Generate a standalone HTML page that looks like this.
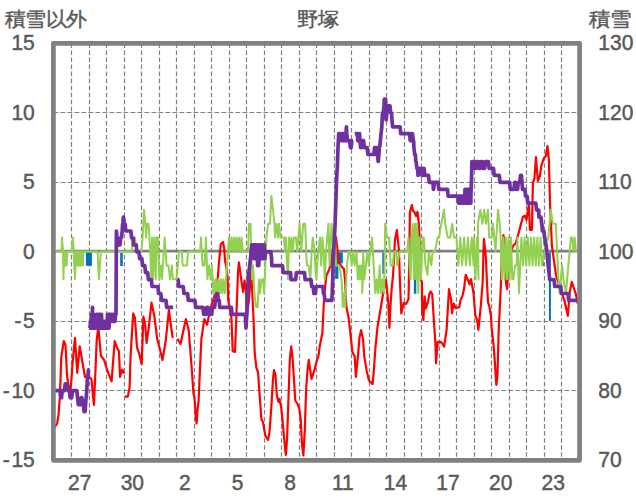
<!DOCTYPE html>
<html><head><meta charset="utf-8"><style>
html,body{margin:0;padding:0;background:#fff;}
svg{display:block;}
text{font-family:"Liberation Sans",sans-serif;fill:#595959;stroke:#595959;stroke-width:0.45px;}
</style></head><body>
<svg width="636" height="501" viewBox="0 0 636 501">
<rect width="636" height="501" fill="#fff"/>
<path d="M71.50 43.35V460.30 M89.50 43.35V460.30 M106.50 43.35V460.30 M124.50 43.35V460.30 M141.50 43.35V460.30 M159.50 43.35V460.30 M176.50 43.35V460.30 M194.50 43.35V460.30 M211.50 43.35V460.30 M229.50 43.35V460.30 M246.50 43.35V460.30 M264.50 43.35V460.30 M281.50 43.35V460.30 M299.50 43.35V460.30 M316.50 43.35V460.30 M334.50 43.35V460.30 M351.50 43.35V460.30 M369.50 43.35V460.30 M386.50 43.35V460.30 M404.50 43.35V460.30 M421.50 43.35V460.30 M439.50 43.35V460.30 M456.50 43.35V460.30 M474.50 43.35V460.30 M491.50 43.35V460.30 M509.50 43.35V460.30 M526.50 43.35V460.30 M544.50 43.35V460.30 M561.50 43.35V460.30" stroke="#808080" stroke-width="1.2" stroke-dasharray="4.6 2.45" fill="none"/><path d="M53.40 112.50H579.60 M53.40 182.50H579.60 M53.40 321.50H579.60 M53.40 390.50H579.60" stroke="#808080" stroke-width="1.2" stroke-dasharray="4.9 2.1" fill="none"/><path d="M53.40 251.2H579.60" stroke="#808080" stroke-width="2.8" fill="none"/><rect x="85.9" y="252.5" width="6.0" height="13.3" fill="#0070c0"/>
<rect x="120.2" y="253" width="2.6" height="13.0" fill="#0070c0"/>
<rect x="335.1" y="252.4" width="3.3" height="26.4" fill="#0070c0"/>
<rect x="338.4" y="252.4" width="4.4" height="11.0" fill="#0070c0"/>
<rect x="382.3" y="252.4" width="2.0" height="21.5" fill="#0070c0"/>
<rect x="413.9" y="252.3" width="2.4" height="41.5" fill="#0070c0"/>
<rect x="417.9" y="252.3" width="1.0" height="13.6" fill="#0070c0"/>
<rect x="548.9" y="252.4" width="2.0" height="68.4" fill="#0070c0"/>
<rect x="543" y="252.4" width="1.0" height="13.6" fill="#0070c0"/>
<path d="M54.2 427.8 L57.1 423.5 L58.5 415.0 L59.9 396.6 L61.3 357.0 L63.8 341.0 L65.5 345.0 L67.0 375.0 L69.8 396.6 L71.2 382.5 L72.6 362.6 L75.0 337.8 L77.2 372.8 L79.7 346.3 L85.0 377.0 L89.3 377.0 L91.4 379.2 L93.9 405.0 L95.5 370.0 L96.7 340.0 L98.4 327.1 L100.9 355.8 L104.1 360.0 L107.3 370.7 L111.6 381.3 L114.7 341.0 L116.9 347.3 L119.0 351.6 L120.0 377.0 L122.2 369.6 L124.3 373.8 M125.0 396.6 L127.8 396.6 L129.6 387.6 L130.7 353.7 L133.2 313.3 L134.9 317.6 L137.0 347.3 L139.2 353.7 L141.7 364.3 L143.4 316.5 L145.1 324.0 L146.6 343.0 L148.7 328.2 L151.5 302.7 L154.4 316.5 L157.2 338.8 L160.4 351.6 L162.5 360.0 L165.7 341.0 L168.9 310.2 L171.0 326.1 L172.7 337.8 M177.4 338.9 L180.5 344.0 L185.9 319.0 L188.7 330.4 L191.5 365.5 L193.5 393.8 L194.4 396.6 L195.8 416.4 L196.6 423.5 L197.7 408.0 L198.6 400.9 L200.0 368.3 L201.4 338.9 L204.3 319.0 L207.1 324.7 L209.9 310.6 L214.0 297.3 L217.2 285.6 L219.1 261.0 L220.8 244.1 L223.0 242.1 L224.3 249.3 L225.0 261.0 L226.3 266.2 L227.6 277.9 L228.2 300.0 L231.4 317.5 L232.7 351.2 L235.0 352.0 L236.6 309.7 L238.0 272.0 L238.9 262.3 L241.9 284.4 L243.2 292.0 L244.5 280.5 L246.0 290.0 L247.0 315.0 L249.0 300.0 L251.0 269.0 L253.5 317.5 L254.7 353.0 L256.4 367.8 L258.0 372.0 L259.7 396.0 L261.4 419.5 L263.0 422.0 L265.4 435.8 L268.1 439.9 L269.5 432.0 L271.4 406.0 L273.0 378.8 L274.1 370.2 L275.5 375.0 L276.8 395.1 L278.5 402.0 L279.5 399.0 L281.2 407.3 L282.2 416.8 L284.4 441.2 L285.8 454.8 L287.0 440.0 L288.5 397.8 L289.8 359.8 L291.2 346.3 L292.5 357.0 L293.9 378.8 L295.3 400.5 L297.5 404.0 L299.3 408.7 L300.7 419.5 L302.0 444.0 L303.4 455.3 L304.8 430.0 L306.1 389.7 L307.5 370.7 L308.8 359.8 L310.2 370.0 L311.5 378.8 L314.3 370.7 L317.0 359.8 L318.3 357.0 L319.7 346.3 L322.4 332.7 L324.1 297.4 L326.3 275.5 L329.0 270.0 L331.8 259.6 L333.2 245.5 L334.6 237.0 L336.0 237.0 L338.9 262.5 L341.7 266.7 L343.9 268.9 L345.1 280.0 L346.3 306.3 L348.7 318.3 L351.1 339.8 L352.3 351.8 L354.7 356.6 L355.9 376.9 L358.3 351.8 L359.5 337.4 L361.1 330.2 L363.1 339.8 L364.3 356.6 L366.7 370.9 L369.0 380.5 L372.6 384.1 L373.8 370.9 L375.5 347.0 L377.4 327.8 L381.0 306.3 L383.4 292.0 L386.0 280.0 L388.2 301.5 L389.4 327.8 L390.6 303.9 L391.8 287.2 L393.0 275.8 L395.0 240.0 L396.9 230.0 L398.9 250.0 L399.9 280.0 L401.3 313.5 L403.7 302.7 L406.1 303.9 L408.5 299.1 L409.0 275.0 L409.9 212.0 L411.9 205.0 L413.0 211.0 L414.5 212.0 L415.9 216.0 L417.5 212.0 L418.9 224.0 L419.9 245.9 L420.9 279.8 L421.9 281.8 L422.2 311.9 L423.4 320.2 L424.6 296.3 L425.8 308.3 L428.2 301.1 L429.4 293.9 L430.6 291.5 L432.2 293.9 L433.7 317.8 L435.3 341.8 L436.1 363.3 L437.7 341.8 L440.1 341.8 L442.0 343.0 L444.2 346.6 L446.6 329.8 L449.0 289.1 L450.9 298.7 L452.1 313.1 L453.8 303.5 L455.7 308.3 L459.3 307.1 L460.5 299.9 L462.4 296.3 L464.0 289.1 L465.7 274.8 L467.5 279.0 L469.5 284.4 L471.0 279.0 L472.4 286.7 L473.6 293.9 L475.3 315.5 L477.2 320.2 L478.4 329.8 L480.8 305.9 L482.7 282.0 L483.5 250.0 L484.0 238.9 L486.0 258.9 L486.8 279.6 L488.0 301.9 L489.2 305.9 L491.0 315.8 L491.6 327.4 L493.5 344.2 L495.1 365.7 L496.3 384.8 L497.5 375.0 L498.7 329.8 L499.9 305.9 L501.1 279.6 L502.0 246.9 L503.5 235.0 L504.5 245.0 L506.0 282.8 L507.1 289.1 L508.0 274.8 L510.0 254.9 L512.0 248.9 L513.0 246.0 L515.8 242.9 L519.0 231.8 L521.0 223.8 L523.0 216.8 L525.0 215.8 L526.5 219.8 L528.9 203.8 L529.9 229.8 L531.9 229.8 L532.9 182.9 L534.5 177.9 L535.9 157.0 L537.9 180.9 L539.9 175.9 L541.3 165.9 L543.9 158.0 L545.9 156.0 L547.5 146.0 L548.9 160.0 L549.9 199.8 L551.9 246.0 L553.9 260.0 L556.0 275.0 L559.8 287.9 L562.8 295.9 L564.8 301.9 L567.8 315.8 L569.8 291.9 L571.8 281.9 L573.5 287.0 L575.8 293.9 L577.8 303.9" stroke="#ff0000" stroke-width="2.2" fill="none" stroke-linejoin="round"/>
<path d="M55.0 251.5 L61.5 251.5 L62.0 237.6 L63.0 251.5 L63.5 279.3 L64.0 251.5 L64.5 251.5 L65.2 265.4 L65.9 251.5 L66.6 265.4 L67.3 251.5 L67.5 251.5 L71.5 251.5 L73.0 237.6 L75.0 279.3 L76.0 251.5 L76.5 251.5 L77.2 265.4 L77.9 251.5 L78.6 265.4 L79.3 251.5 L80.0 265.4 L80.7 251.5 L81.4 265.4 L82.1 251.5 L82.8 265.4 L83.5 251.5 L84.0 251.5 L97.5 251.5 L99.0 279.3 L100.8 251.5 L132.0 251.5 L132.5 237.6 L135.0 237.6 L136.5 251.5 L141.3 251.5 L142.6 237.6 L144.0 209.8 L145.4 223.7 L146.0 237.6 L146.9 223.7 L148.5 223.7 L149.4 237.6 L150.3 251.5 L151.2 279.3 L152.1 237.6 L153.0 279.3 L154.4 237.6 L155.7 279.3 L156.6 237.6 L158.0 237.6 L159.3 279.3 L161.1 265.4 L162.0 279.3 L163.8 251.5 L164.7 237.6 L166.5 265.4 L168.3 265.4 L170.1 279.3 L171.9 265.4 L172.8 279.3 L176.4 279.3 L179.1 251.5 L181.8 251.5 L182.7 265.4 L187.0 265.4 L188.0 251.5 L200.0 251.5 L201.0 237.6 L202.6 265.4 L204.5 265.4 L206.0 237.6 L207.4 279.3 L209.0 265.4 L210.6 279.3 L212.0 265.4 L213.4 293.2 L213.5 279.3 L214.8 293.2 L216.0 279.3 L217.2 293.2 L218.5 279.3 L219.8 293.2 L221.0 279.3 L222.2 293.2 L223.5 279.3 L224.8 293.2 L226.0 279.3 L228.0 251.5 L229.0 237.6 L229.0 237.6 L230.2 251.5 L231.5 237.6 L232.8 251.5 L234.0 237.6 L235.2 251.5 L236.5 237.6 L237.8 251.5 L239.0 237.6 L240.2 251.5 L241.5 237.6 L242.8 251.5 L244.0 251.5 L248.0 251.5 L249.0 223.7 L250.5 223.7 L252.0 279.3 L253.0 265.4 L254.4 293.2 L256.0 307.1 L257.6 307.1 L259.2 279.3 L260.0 293.2 L261.6 279.3 L263.2 279.3 L264.0 293.2 L264.8 279.3 L266.4 237.6 L268.0 223.7 L270.0 223.7 L271.4 195.9 L273.0 209.8 L274.5 223.7 L275.0 237.6 L276.5 223.7 L278.0 237.6 L279.0 223.7 L280.5 237.6 L282.0 237.6 L284.0 237.6 L285.0 251.5 L286.0 237.6 L287.0 265.4 L288.0 279.3 L289.0 237.6 L289.0 237.6 L290.2 251.5 L291.5 237.6 L292.8 251.5 L294.0 237.6 L296.0 237.6 L297.2 251.5 L299.6 223.7 L301.3 251.5 L303.2 223.7 L305.1 223.7 L306.8 265.4 L308.5 265.4 L310.4 279.3 L311.6 251.5 L312.8 237.6 L314.7 251.5 L315.2 265.4 L316.4 279.3 L318.1 251.5 L320.0 237.6 L321.2 265.4 L322.4 237.6 L323.6 251.5 L324.8 279.3 L326.0 251.5 L328.4 223.7 L329.6 265.4 L331.5 223.7 L333.2 251.5 L335.0 237.6 L336.0 265.4 L339.2 265.4 L341.6 279.3 L342.8 307.1 L344.0 293.2 L345.2 307.1 L346.9 265.4 L348.8 251.5 L350.0 251.5 L351.8 265.4 L353.3 251.5 L354.8 265.4 L356.6 251.5 L357.7 279.3 L358.0 265.4 L359.0 279.3 L360.0 265.4 L361.0 279.3 L362.0 265.4 L363.0 279.3 L362.1 293.2 L363.2 251.5 L364.3 279.3 L365.8 265.4 L367.6 251.5 L368.7 265.4 L370.2 251.5 L372.0 237.6 L373.7 265.4 L375.3 293.2 L376.8 279.3 L378.1 293.2 L379.7 265.4 L380.8 293.2 L382.5 279.3 L384.1 293.2 L385.2 223.7 L386.9 237.6 L389.1 237.6 L390.7 265.4 L392.9 265.4 L394.0 251.5 L396.2 251.5 L397.3 265.4 L399.5 251.5 L407.0 251.5 L408.5 237.6 L409.5 265.4 L410.6 279.3 L411.7 237.6 L412.8 223.7 L413.9 279.3 L415.0 223.7 L416.1 279.3 L417.2 223.7 L418.3 293.2 L419.4 237.6 L420.9 279.3 L422.7 237.6 L423.8 237.6 L425.5 265.4 L427.5 275.1 L428.8 251.5 L431.3 265.4 L432.6 251.5 L435.1 251.5 L437.6 237.6 L438.9 237.6 L441.4 223.7 L443.9 209.8 L445.2 223.7 L447.7 237.6 L450.2 237.6 L452.2 223.7 L454.0 237.6 L456.5 237.6 L456.5 237.6 L458.4 265.4 L460.3 237.6 L462.2 265.4 L464.1 237.6 L466.0 265.4 L467.9 237.6 L469.8 265.4 L471.7 237.6 L473.6 265.4 L474.0 237.6 L475.5 279.3 L477.0 237.6 L478.5 279.3 L477.9 223.7 L480.4 209.8 L482.4 223.7 L484.2 209.8 L485.9 223.7 L487.9 209.8 L489.2 237.6 L491.7 237.6 L493.0 223.7 L495.5 251.5 L498.0 209.8 L499.8 223.7 L500.6 237.6 L500.6 237.6 L501.9 279.3 L503.2 237.6 L504.5 279.3 L505.8 237.6 L507.1 279.3 L508.4 237.6 L509.7 279.3 L511.0 237.6 L512.3 279.3 L513.4 279.3 L515.0 265.4 L516.6 265.4 L517.4 237.6 L519.0 293.2 L521.4 237.6 L523.0 265.4 L524.6 237.6 L524.6 237.6 L526.2 265.4 L527.8 237.6 L529.4 265.4 L531.0 237.6 L532.6 265.4 L534.2 237.6 L535.8 265.4 L537.4 237.6 L539.0 265.4 L540.6 237.6 L542.2 265.4 L544.5 251.5 L548.3 237.6 L550.8 209.8 L552.8 223.7 L555.8 223.7 L557.1 251.5 L558.4 279.3 L559.6 293.2 L562.1 265.4 L563.4 279.3 L565.9 293.2 L568.4 265.4 L570.9 237.6 L572.2 237.6 L573.5 251.5 L574.7 237.6 L576.0 251.5 L578.0 251.5" stroke="#92d050" stroke-width="2" fill="none" stroke-linejoin="round"/>
<path d="M54.2 390.7 L60.0 390.7 L60.8 397.7 L61.5 397.7 L62.2 390.7 L64.4 390.7 L65.2 383.8 L67.3 383.8 L68.1 390.7 L69.5 390.7 L70.2 397.7 L71.7 397.7 L72.5 390.7 L76.8 390.7 L77.6 397.7 L78.3 404.6 L80.5 404.6 L81.2 397.7 L81.9 397.7 L82.7 404.6 L83.4 404.6 L84.1 411.6 L85.0 411.6 L85.6 404.6 L86.1 397.7 L86.3 397.7 L87.1 383.8 L87.5 376.8 L87.8 376.8 L88.5 369.9 L89.0 369.9 M89.3 328.2 L90.0 328.2 L90.5 321.3 L90.8 328.2 L91.0 328.2 L91.5 314.3 L91.5 314.3 L92.0 328.2 L92.2 321.3 L92.5 307.4 L93.0 328.2 L93.0 328.2 L93.5 314.3 L93.7 314.3 L94.0 328.2 L94.4 321.3 L94.5 321.3 L95.0 328.2 L95.1 328.2 L95.5 321.3 L95.9 328.2 L96.0 328.2 L96.5 314.3 L96.6 321.3 L97.0 328.2 L97.3 321.3 L97.5 314.3 L98.0 328.2 L98.1 328.2 L98.5 314.3 L98.8 321.3 L99.0 328.2 L99.5 314.3 L99.5 314.3 L100.0 328.2 L100.2 321.3 L100.5 314.3 L101.0 328.2 L101.0 328.2 L101.5 314.3 L101.7 321.3 L102.0 328.2 L102.4 321.3 L102.5 321.3 L103.0 328.2 L103.2 328.2 L103.5 321.3 L103.9 328.2 L104.0 328.2 L104.5 321.3 L104.6 321.3 L105.0 328.2 L105.4 321.3 L105.5 321.3 L106.0 328.2 L106.1 328.2 L106.5 321.3 L106.8 328.2 L107.0 328.2 L107.5 314.3 L107.5 321.3 L108.0 328.2 L108.3 321.3 L108.5 314.3 L109.0 328.2 L109.0 328.2 L109.5 314.3 L109.7 314.3 L110.0 321.3 L110.5 314.3 L110.5 314.3 L111.0 321.3 L111.2 321.3 L111.5 314.3 L111.9 321.3 L112.0 321.3 L112.5 314.3 L112.7 314.3 L113.0 321.3 L113.4 314.3 L113.5 314.3 L114.0 321.3 L114.1 321.3 L114.5 314.3 L114.8 321.3 L115.0 321.3 L115.5 314.3 L116.0 314.3 L116.3 251.8 L116.4 231.0 L117.0 237.9 L117.8 237.9 L118.5 244.9 L120.0 244.9 L120.7 237.9 L121.4 237.9 L122.2 231.0 L122.6 224.0 L122.9 224.0 L123.3 217.1 L123.6 217.1 L124.3 224.0 L125.1 224.0 L125.8 231.0 L130.9 231.0 L131.6 237.9 L133.1 237.9 L133.5 244.9 L136.3 244.9 L136.8 251.8 L138.9 251.8 L139.7 258.7 L141.9 258.7 L142.6 265.7 L144.8 265.7 L145.5 272.6 L147.7 272.6 L148.4 279.6 L151.3 279.6 L152.1 286.5 L157.9 286.5 L158.6 293.5 L160.8 293.5 L161.6 300.4 L166.0 300.4 L166.7 307.4 L173.1 307.4 M177.4 279.6 L178.1 279.6 L178.9 286.5 L183.2 286.5 L184.0 293.5 L187.6 293.5 L188.3 300.4 L194.9 300.4 L195.7 307.4 L203.0 307.4 L203.7 314.3 L205.9 314.3 L206.6 307.4 L208.1 307.4 L208.8 314.3 L211.7 314.3 L212.4 307.4 L214.6 307.4 L215.4 300.4 L216.1 300.4 L216.8 293.5 L217.6 293.5 L218.3 300.4 L219.3 300.4 L219.7 307.4 L231.4 307.4 L232.0 314.3 L245.3 314.3 L246.0 328.2 L246.0 328.2 L246.8 314.3 L247.5 293.5 L248.2 279.6 L248.5 272.6 L248.9 272.6 L249.7 265.7 L250.4 258.7 L250.5 258.7 L251.1 251.8 L251.6 244.9 L253.4 244.9 L254.0 258.7 L254.1 258.7 L254.6 244.9 L254.8 244.9 L255.2 258.7 L255.5 251.8 L255.8 244.9 L256.2 251.8 L256.4 258.7 L257.0 244.9 L257.0 244.9 L257.6 265.7 L257.7 265.7 L258.2 244.9 L258.4 251.8 L258.8 265.7 L259.2 251.8 L259.4 244.9 L259.9 258.7 L260.0 258.7 L260.6 244.9 L260.6 244.9 L261.2 258.7 L261.4 251.8 L261.8 244.9 L262.1 251.8 L262.4 258.7 L262.8 251.8 L263.0 244.9 L263.5 258.7 L263.6 258.7 L264.2 244.9 L264.3 244.9 L264.8 258.7 L265.0 258.7 L265.5 251.8 L270.8 251.8 L271.6 258.7 L271.8 265.7 L282.5 265.7 L283.2 272.6 L290.6 272.6 L291.0 279.6 L295.7 279.6 L296.4 272.6 L304.5 272.6 L305.1 279.6 L311.0 279.6 L311.7 286.5 L313.2 286.5 L313.9 293.5 L315.4 293.5 L316.0 286.5 L323.0 286.5 L323.4 293.5 L324.1 293.5 L324.9 300.4 L331.8 300.4 L332.2 293.5 L332.9 272.6 L332.9 265.7 L333.6 251.8 L334.4 237.9 L335.1 224.0 L335.1 224.0 L335.8 203.2 L336.5 182.3 L337.2 168.4 L337.3 168.4 L338.0 147.6 L338.7 133.7 L341.0 133.7 L341.6 140.6 L342.4 140.6 L343.1 133.7 L343.1 133.7 L343.8 140.6 L345.3 140.6 L346.0 133.7 L346.4 126.8 L346.8 133.7 L347.5 140.6 L349.7 140.6 L350.4 147.6 L351.1 147.6 L351.9 140.6 L353.0 140.6 M354.8 133.7 L357.4 133.7 L357.7 140.6 L359.2 140.6 L359.6 133.7 L359.9 140.6 L360.6 147.6 L361.4 147.6 L362.1 140.6 L363.6 140.6 L364.3 147.6 L367.2 147.6 L367.9 154.5 L373.9 154.5 L374.5 147.6 L376.8 147.6 L377.4 154.5 L378.2 161.5 L378.3 161.5 L378.9 154.5 L379.4 147.6 L379.6 147.6 L380.4 140.6 L381.0 133.7 L381.1 133.7 L381.8 126.8 L382.5 112.9 L383.3 112.9 L384.0 105.9 L384.3 99.0 L385.6 99.0 L386.0 119.8 L386.2 119.8 L386.9 112.9 L387.1 105.9 L390.0 105.9 L390.6 112.9 L391.5 112.9 L392.0 119.8 L392.6 126.8 L400.1 126.8 L400.8 133.7 L409.6 133.7 L410.2 140.6 L411.0 140.6 L411.7 133.7 L412.5 133.7 L413.2 140.6 L413.6 140.6 L413.9 147.6 L414.7 154.5 L415.4 154.5 L415.8 161.5 L416.1 161.5 L416.9 168.4 L417.6 168.4 L418.0 175.4 L418.3 175.4 L419.0 168.4 L421.2 168.4 L422.0 175.4 L422.7 175.4 L423.4 168.4 L424.1 168.4 L424.9 175.4 L428.5 175.4 L429.3 182.3 L432.9 182.3 L433.4 189.3 L433.6 189.3 L434.4 182.3 L438.0 182.3 L438.8 189.3 L447.5 189.3 L448.2 196.2 L458.0 196.2 L458.5 203.2 L458.5 203.2 L459.0 196.2 L459.2 196.2 L459.5 203.2 L459.9 196.2 L460.0 196.2 L460.5 203.2 L460.6 203.2 L461.0 196.2 L461.4 203.2 L461.5 203.2 L462.0 196.2 L462.1 196.2 L462.5 203.2 L462.8 196.2 L463.0 196.2 L463.5 203.2 L463.6 203.2 L464.0 196.2 L464.3 196.2 L464.5 203.2 L465.0 189.3 L465.0 189.3 L465.5 203.2 L465.8 196.2 L466.0 189.3 L466.5 203.2 L466.5 203.2 L467.0 189.3 L467.2 196.2 L467.5 203.2 L467.9 189.3 L468.0 189.3 L468.5 203.2 L468.7 196.2 L469.0 189.3 L469.4 196.2 L469.5 203.2 L470.0 189.3 L470.1 196.2 L470.5 203.2 L470.8 203.2 L470.9 196.2 L471.6 175.4 L471.9 161.5 L473.8 161.5 L474.5 168.4 L476.0 168.4 L476.7 161.5 L478.2 161.5 L478.9 168.4 L480.4 168.4 L481.1 161.5 L482.6 161.5 L483.3 168.4 L484.7 168.4 L485.5 161.5 L488.4 161.5 L489.1 168.4 L493.5 168.4 L494.2 175.4 L499.3 175.4 L500.1 182.3 L509.6 182.3 L510.3 189.3 L513.9 189.3 L514.7 182.3 L515.4 182.3 L516.1 189.3 L517.6 189.3 L518.3 182.3 L519.8 182.3 L520.5 175.4 L521.4 175.4 L522.0 182.3 L522.5 189.3 L524.9 189.3 L525.6 196.2 L527.1 196.2 L527.8 203.2 L535.8 203.2 L536.6 210.1 L538.8 210.1 L538.9 217.1 L541.0 217.1 L541.7 224.0 L541.9 224.0 L542.4 231.0 L543.9 231.0 L544.6 237.9 L544.9 237.9 L545.3 244.9 L546.1 244.9 L546.8 251.8 L546.9 251.8 L547.5 258.7 L548.2 265.7 L548.9 272.6 L549.0 272.6 L549.7 279.6 L554.1 279.6 L554.8 286.5 L560.8 286.5 L561.4 293.5 L568.0 293.5 L568.7 300.4 L578.0 300.4" stroke="#7030a0" stroke-width="3.7" fill="none" stroke-linejoin="round"/><rect x="53.4" y="43.35" width="526.20" height="416.95" stroke="#808080" stroke-width="4.7" fill="none" stroke-linejoin="round"/>
<text transform="translate(34.80 50.15) scale(1 1.06)" text-anchor="end" font-size="21">15</text><text transform="translate(34.80 119.64) scale(1 1.06)" text-anchor="end" font-size="21">10</text><text transform="translate(34.80 189.13) scale(1 1.06)" text-anchor="end" font-size="21">5</text><text transform="translate(34.80 258.62) scale(1 1.06)" text-anchor="end" font-size="21">0</text><text transform="translate(34.80 328.12) scale(1 1.06)" text-anchor="end" font-size="21">5</text><text transform="translate(21.52 328.12) scale(1 1.06)" text-anchor="end" font-size="21">-</text><text transform="translate(34.80 397.61) scale(1 1.06)" text-anchor="end" font-size="21">10</text><text transform="translate(9.85 397.61) scale(1 1.06)" text-anchor="end" font-size="21">-</text><text transform="translate(34.80 467.10) scale(1 1.06)" text-anchor="end" font-size="21">15</text><text transform="translate(9.85 467.10) scale(1 1.06)" text-anchor="end" font-size="21">-</text><text transform="translate(598.30 50.15) scale(1 1.06)" text-anchor="start" font-size="21">130</text><text transform="translate(598.30 119.64) scale(1 1.06)" text-anchor="start" font-size="21">120</text><text transform="translate(598.30 189.13) scale(1 1.06)" text-anchor="start" font-size="21">110</text><text transform="translate(598.30 258.62) scale(1 1.06)" text-anchor="start" font-size="21">100</text><text transform="translate(598.30 328.12) scale(1 1.06)" text-anchor="start" font-size="21">90</text><text transform="translate(598.30 397.61) scale(1 1.06)" text-anchor="start" font-size="21">80</text><text transform="translate(598.30 467.10) scale(1 1.06)" text-anchor="start" font-size="21">70</text><text transform="translate(79.71 489.50) scale(1 1.06)" text-anchor="middle" font-size="21">27</text><text transform="translate(132.33 489.50) scale(1 1.06)" text-anchor="middle" font-size="21">30</text><text transform="translate(184.95 489.50) scale(1 1.06)" text-anchor="middle" font-size="21">2</text><text transform="translate(237.57 489.50) scale(1 1.06)" text-anchor="middle" font-size="21">5</text><text transform="translate(290.19 489.50) scale(1 1.06)" text-anchor="middle" font-size="21">8</text><text transform="translate(342.81 489.50) scale(1 1.06)" text-anchor="middle" font-size="21">11</text><text transform="translate(395.43 489.50) scale(1 1.06)" text-anchor="middle" font-size="21">14</text><text transform="translate(448.05 489.50) scale(1 1.06)" text-anchor="middle" font-size="21">17</text><text transform="translate(500.67 489.50) scale(1 1.06)" text-anchor="middle" font-size="21">20</text><text transform="translate(553.29 489.50) scale(1 1.06)" text-anchor="middle" font-size="21">23</text>
<text transform="translate(4.6 25.6) scale(0.977 0.93)" font-size="21">積雪以外</text>
<text transform="translate(318.2 25.6) scale(1.0 0.93)" font-size="21" text-anchor="middle">野塚</text>
<text transform="translate(589.2 25.6) scale(1.0 0.93)" font-size="21">積雪</text>
</svg>
</body></html>
